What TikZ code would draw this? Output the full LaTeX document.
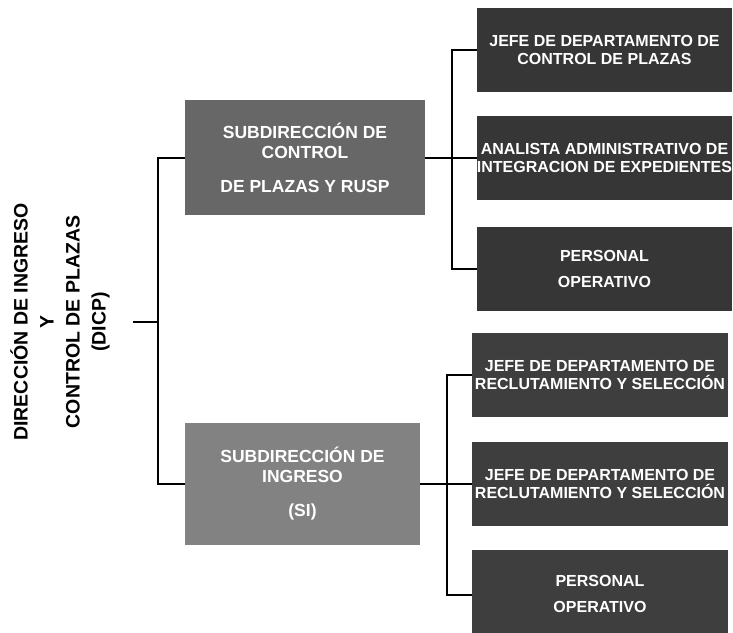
\documentclass[tikz,border=0pt]{standalone}
\usepackage{fontspec}
\setmainfont{Liberation Sans}
\definecolor{darkbg}{HTML}{363636}
\definecolor{darkbgb}{HTML}{3E3E3E}
\definecolor{subA}{HTML}{676767}
\definecolor{subB}{HTML}{828282}
\begin{document}
\begin{tikzpicture}[x=1pt,y=-1pt,
  conn/.style={line width=2pt, black},
  rbox/.style={draw=none, minimum width=256pt, minimum height=84pt, inner sep=0pt,
    text=white, align=center, font=\bfseries\fontsize{16}{18}\selectfont},
  sbox/.style={draw=none, inner sep=0pt, text=white, align=center,
    font=\bfseries\fontsize{17.5}{20}\selectfont},
  titletext/.style={rotate=90, align=center, font=\bfseries\fontsize{19.5}{26}\selectfont}]
\useasboundingbox (0,0) rectangle (733,632);
\fill[white] (0,0) rectangle (733,632);

% title
\node[titletext] (title) at (60,322) {DIRECCIÓN DE INGRESO\\Y\\CONTROL DE PLAZAS\\(DICP)};

% sub boxes
\node[sbox, fill=subA, minimum width=240pt, minimum height=115pt] (s1) at (305,157.5)
  {SUBDIRECCIÓN DE\\CONTROL\\[14pt]DE PLAZAS Y RUSP};
\node[sbox, fill=subB, minimum width=235pt, minimum height=122pt] (s2) at (302.5,484)
  {SUBDIRECCIÓN DE\\INGRESO\\[14pt](SI)};

% right boxes, group 1
\node[rbox, fill=darkbg, minimum width=255pt] (b1) at (604.5,50) {JEFE DE DEPARTAMENTO DE\\CONTROL DE PLAZAS};
\node[rbox, fill=darkbg, minimum width=255pt] (b2) at (604.5,157.5) {ANALISTA ADMINISTRATIVO DE\\INTEGRACION DE EXPEDIENTES};
\node[rbox, fill=darkbg, minimum width=255pt] (b3) at (604.5,268.5) {PERSONAL\\[8pt]OPERATIVO};

% right boxes, group 2
\node[rbox, fill=darkbgb] (b4) at (600,375) {JEFE DE DEPARTAMENTO DE\\RECLUTAMIENTO Y SELECCIÓN};
\node[rbox, fill=darkbgb] (b5) at (600,484) {JEFE DE DEPARTAMENTO DE\\RECLUTAMIENTO Y SELECCIÓN};
\node[rbox, fill=darkbgb, minimum height=88pt] (b6) at (600,594) {PERSONAL\\[8pt]OPERATIVO};

% bus coordinates
\coordinate (L) at (158,0);
\coordinate (R1) at (452,0);
\coordinate (R2) at (447,0);
\coordinate (t0) at (133,322);

% connectors
\draw[conn] (t0) -- (t0 -| L);
\draw[conn] (s1.west) -- (s1.west -| L) -- (s2.west -| L) -- (s2.west);
\draw[conn] (s1.east) -- (b2.west);
\draw[conn] (b1.west) -- (b1.west -| R1) -- (b3.west -| R1) -- (b3.west);
\draw[conn] (s2.east) -- (b5.west);
\draw[conn] (b4.west) -- (b4.west -| R2) -- ([yshift=-1pt]b6.west -| R2) -- ([yshift=-1pt]b6.west);
\end{tikzpicture}
\end{document}
